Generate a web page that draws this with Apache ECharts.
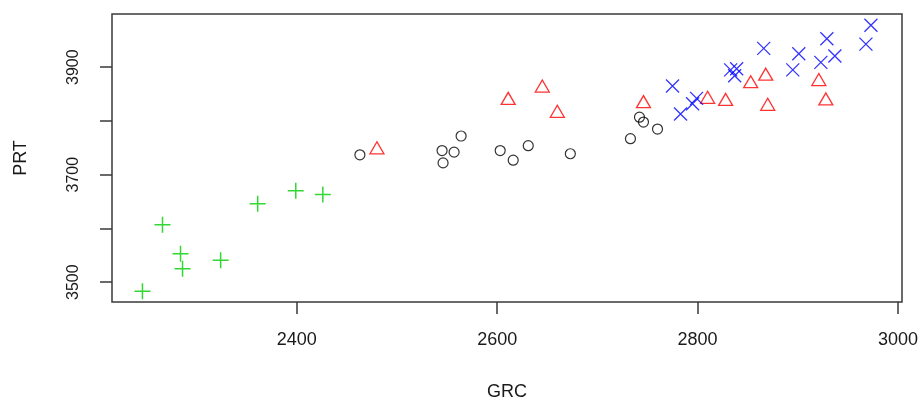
<!DOCTYPE html>
<html>
<head>
<meta charset="utf-8">
<script src="https://cdn.jsdelivr.net/npm/echarts@6/dist/echarts.min.js"></script>
<style>
  html, body { margin: 0; padding: 0; background: #fff; }
  #main { width: 922px; height: 403px; }
</style>
</head>
<body>
<div id="main"></div>
<script>
// group data (GRC, PRT)
var blackX = [2463, 2545, 2546, 2557, 2564, 2603, 2616, 2631, 2673, 2733, 2742, 2746, 2760];
var blackY = [3737, 3745, 3722, 3742, 3772, 3745, 3727, 3754, 3739, 3767, 3807, 3798, 3785];

var redX = [2480, 2611, 2645, 2660, 2746, 2810, 2828, 2853, 2868, 2870, 2921, 2928];
var redY = [3750, 3842, 3865, 3818, 3836, 3844, 3840, 3873, 3887, 3831, 3877, 3841];

var greenX = [2246, 2266, 2284, 2286, 2324, 2361, 2399, 2426];
var greenY = [3483, 3607, 3553, 3525, 3541, 3646, 3670, 3663];

var blueX = [2973, 2929, 2968, 2866, 2901, 2937, 2923, 2895, 2833, 2839, 2837, 2775, 2799, 2795, 2783];
var blueY = [3978, 3953, 3943, 3935, 3925, 3921, 3909, 3895, 3895, 3897, 3884, 3865, 3842, 3832, 3813];

var xTicks = [2400, 2600, 2800, 3000];
var yTicks = [3500, 3600, 3700, 3800, 3900];
var yLabels = [3500, 3700, 3900];

function pairs(xs, ys) {
  return xs.map(function (x, i) { return [x, ys[i]]; });
}

var font = "Liberation Sans";
var frame = "#3a3a3a";
var plain = function (v) { return String(v); };

var myChart = echarts.init(document.getElementById("main"));

var option = {
  animation: false,
  grid: {
    left: 112, right: 20, top: 14, bottom: 101,
    outerBoundsMode: "none",
    show: true, borderColor: frame, borderWidth: 1.5
  },
  xAxis: {
    type: "value",
    min: 2215.6, max: 3004,
    name: "GRC", nameLocation: "middle", nameGap: 81,
    nameTextStyle: { fontFamily: font, fontSize: 18, color: "#1a1a1a" },
    splitLine: { show: false },
    axisLine: { show: false },
    axisTick: { show: true, length: 12, customValues: xTicks, lineStyle: { color: frame, width: 1.5 } },
    axisLabel: { customValues: xTicks, formatter: plain, margin: 29, fontFamily: font, fontSize: 18, color: "#1a1a1a" }
  },
  yAxis: {
    type: "value",
    min: 3463.2, max: 3999,
    name: "PRT", nameLocation: "middle", nameGap: 82,
    nameTextStyle: { fontFamily: font, fontSize: 18, color: "#1a1a1a" },
    splitLine: { show: false },
    axisLine: { show: false },
    axisTick: { show: true, length: 12, customValues: yTicks, lineStyle: { color: frame, width: 1.5 } },
    axisLabel: { customValues: yLabels, formatter: plain, rotate: 90, margin: 30, fontFamily: font, fontSize: 16, color: "#1a1a1a" }
  },
  series: [
    {
      name: "black", type: "scatter", symbol: "circle", symbolSize: 10,
      itemStyle: { color: "transparent", borderColor: "#000", borderWidth: 1.2 },
      data: pairs(blackX, blackY)
    },
    {
      name: "red", type: "scatter", symbol: "triangle", symbolSize: [14, 12],
      itemStyle: { color: "transparent", borderColor: "#ff0000", borderWidth: 1.3 },
      data: pairs(redX, redY)
    },
    {
      name: "green", type: "scatter", symbol: "path://M0,5L10,5M5,0L5,10", symbolSize: 16,
      itemStyle: { color: "transparent", borderColor: "#00cd00", borderWidth: 1.5 },
      data: pairs(greenX, greenY)
    },
    {
      name: "blue", type: "scatter", symbol: "path://M0,0L10,10M10,0L0,10", symbolSize: 13,
      itemStyle: { color: "transparent", borderColor: "#0000ff", borderWidth: 1.3 },
      data: pairs(blueX, blueY)
    }
  ]
};

myChart.setOption(option);
</script>
</body>
</html>
